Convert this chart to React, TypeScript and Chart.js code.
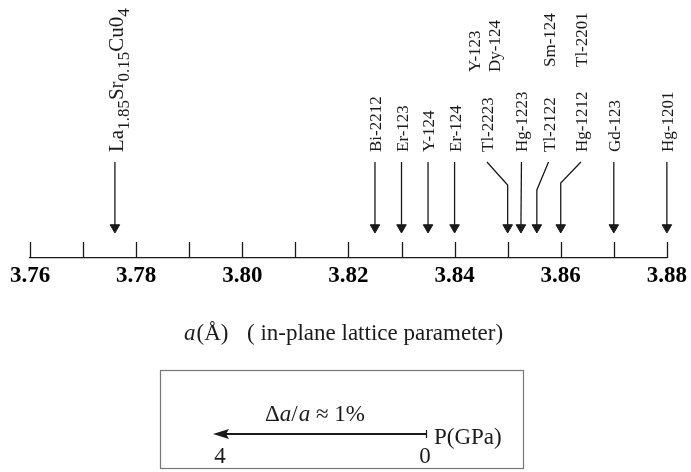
import React, { useEffect, useRef } from 'react';
import { Chart, registerables } from 'chart.js';

Chart.register(...registerables);

// ---- data ----
const compounds = ['La1.85Sr0.15Cu04', 'Bi-2212', 'Er-123', 'Y-124', 'Er-124', 'Tl-2223', 'Hg-1223', 'Tl-2122', 'Hg-1212', 'Gd-123', 'Hg-1201'];
const latticeA = [3.776, 3.825, 3.83, 3.835, 3.84, 3.85, 3.8525, 3.8555, 3.86, 3.87, 3.88];
// where each label (and the top of its arrow) sits on the a axis
const labelA = [3.776, 3.825, 3.83, 3.835, 3.84, 3.8461, 3.8526, 3.8577, 3.8638, 3.87, 3.88];
// extra compounds sharing the same arrow, written above its label
const upperGroups = [
  { lines: ['Y-123', 'Dy-124'], under: 'Tl-2223' },
  { lines: ['Sm-124'], under: 'Tl-2122' },
  { lines: ['Tl-2201'], under: 'Hg-1212' },
];
const axisMin = 3.76;
const axisMax = 3.88;
const tickStep = 0.01;

// ---- layout (y units = pixels above the axis line) ----
const ARROW_TOP = 96;
const ARROW_TIP = 25;
const HEAD_R = 5.5;
const BENDS: Record<string, number> = { 'Tl-2223': 73, 'Tl-2122': 68, 'Hg-1212': 75 };
const LABEL_BOTTOM = 106;
const UPPER_BOTTOM: Record<string, number> = { 'Tl-2223': 186, 'Tl-2122': 191, 'Hg-1212': 191 };
const INK = '#1a1a1a';
const SERIF = '"Liberation Serif", "DejaVu Serif", serif';

const laParts = [
  { t: 'La', sub: false },
  { t: '1.85', sub: true },
  { t: 'Sr', sub: false },
  { t: '0.15', sub: true },
  { t: 'Cu0', sub: false },
  { t: '4', sub: true },
];

function vertText(ctx: CanvasRenderingContext2D, text: string, x: number, yBottom: number, font: string) {
  ctx.save();
  ctx.translate(x, yBottom);
  ctx.rotate(-Math.PI / 2);
  ctx.font = font;
  ctx.textAlign = 'left';
  ctx.textBaseline = 'alphabetic';
  ctx.fillText(text, 0, 0);
  ctx.restore();
}

const overlay = {
  id: 'overlay',
  afterDraw(chart: any) {
    const { ctx, chartArea } = chart;
    const xs = chart.scales.x;
    const ys = chart.scales.y;
    ctx.save();
    ctx.fillStyle = INK;
    ctx.strokeStyle = INK;
    // upward tick marks
    ctx.lineWidth = 1.3;
    const base = chartArea.bottom;
    xs.ticks.forEach((t: any) => {
      const px = Math.round(xs.getPixelForValue(t.value)) + 0.5;
      ctx.beginPath();
      ctx.moveTo(px, base);
      ctx.lineTo(px, base - 16);
      ctx.stroke();
    });

    // compound labels
    const smallFont = `17px ${SERIF}`;
    compounds.forEach((name, i) => {
      const px = xs.getPixelForValue(labelA[i]);
      const py = ys.getPixelForValue(LABEL_BOTTOM);
      if (i === 0) {
        ctx.save();
        ctx.translate(px + 8.5, py);
        ctx.rotate(-Math.PI / 2);
        ctx.textBaseline = 'alphabetic';
        let cx = 0;
        laParts.forEach((p) => {
          ctx.font = p.sub ? `17px ${SERIF}` : `21px ${SERIF}`;
          ctx.fillText(p.t, cx, p.sub ? 6 : 0);
          cx += ctx.measureText(p.t).width;
        });
        ctx.restore();
      } else {
        vertText(ctx, name, px + 6, py, smallFont);
      }
    });
    upperGroups.forEach((g) => {
      const i = compounds.indexOf(g.under);
      const cx = xs.getPixelForValue(labelA[i]) - (g.lines.length > 1 ? 3 : 0);
      const py = ys.getPixelForValue(UPPER_BOTTOM[g.under]);
      g.lines.forEach((line, k) => {
        const off = (k - (g.lines.length - 1) / 2) * 20;
        vertText(ctx, line, cx + off + 6, py, smallFont);
      });
    });

    // caption
    ctx.textAlign = 'left';
    ctx.textBaseline = 'alphabetic';
    ctx.font = `italic 23px ${SERIF}`;
    ctx.fillText('a', 184, 340);
    const wa = ctx.measureText('a').width;
    ctx.font = `23px ${SERIF}`;
    ctx.fillText('(Å)', 184 + wa + 1, 340);
    ctx.fillText('( in-plane lattice parameter)', 247, 340);

    // pressure box
    ctx.strokeStyle = '#777';
    ctx.lineWidth = 1.2;
    ctx.strokeRect(160.5, 370.5, 363, 98);
    ctx.strokeStyle = INK;
    // delta a / a label
    let cx = 265;
    const parts = [
      { t: 'Δ', it: false },
      { t: 'a', it: true },
      { t: '/', it: false },
      { t: 'a', it: true },
      { t: ' ≈ 1%', it: false },
    ];
    parts.forEach((p) => {
      ctx.font = `${p.it ? 'italic ' : ''}23px ${SERIF}`;
      ctx.fillText(p.t, cx, 421);
      cx += ctx.measureText(p.t).width + (p.t === '/' ? 1 : 0);
    });
    // arrow
    ctx.lineWidth = 2;
    ctx.beginPath();
    ctx.moveTo(226, 434);
    ctx.lineTo(426, 434);
    ctx.stroke();
    ctx.lineWidth = 1.2;
    ctx.beginPath();
    ctx.moveTo(426.5, 430);
    ctx.lineTo(426.5, 438);
    ctx.stroke();
    ctx.beginPath();
    ctx.moveTo(213, 434);
    ctx.lineTo(229, 429);
    ctx.lineTo(226, 434);
    ctx.lineTo(229, 439);
    ctx.closePath();
    ctx.fill();
    ctx.font = `23px ${SERIF}`;
    ctx.fillText('P(GPa)', 434, 444);
    ctx.textAlign = 'center';
    ctx.fillText('4', 220, 463);
    ctx.fillText('0', 425, 463);
    ctx.restore();
  },
};

export default function App() {
  const ref = useRef<HTMLCanvasElement>(null);
  useEffect(() => {
    if (!ref.current) return;
    const datasets = compounds.map((name, i) => {
      const pts: { x: number; y: number }[] = [{ x: labelA[i], y: ARROW_TOP }];
      if (BENDS[name] !== undefined) pts.push({ x: latticeA[i], y: BENDS[name] });
      pts.push({ x: latticeA[i], y: ARROW_TIP + HEAD_R });
      return {
        label: name,
        data: pts,
        showLine: true,
        borderColor: INK,
        borderWidth: 1.3,
        pointRadius: pts.map((_, j) => (j === pts.length - 1 ? HEAD_R : 0)),
        pointStyle: 'triangle',
        pointRotation: 180,
        pointBackgroundColor: INK,
        pointBorderColor: INK,
        pointBorderWidth: 1,
        clip: false,
      };
    });
    const chart = new Chart(ref.current, {
      type: 'scatter',
      data: { datasets: datasets as any },
      options: {
        animation: false,
        responsive: true,
        maintainAspectRatio: false,
        events: [],
        layout: { padding: { left: 30, right: 24, top: 8, bottom: 174 } },
        plugins: { legend: { display: false }, tooltip: { enabled: false } },
        scales: {
          x: {
            type: 'linear',
            min: axisMin,
            max: axisMax,
            grid: { display: false, drawTicks: false },
            border: { display: true, color: INK, width: 1.3 },
            afterFit: (s: any) => {
              s.height = 40;
            },
            ticks: {
              stepSize: tickStep,
              autoSkip: false,
              maxRotation: 0,
              padding: 4,
              color: '#000',
              font: { family: SERIF, size: 23, weight: 'bold' },
              callback: (v: any) => (Math.round(Number(v) * 100) % 2 === 0 ? Number(v).toFixed(2) : ''),
            },
          },
          y: { display: false, min: 0, max: 250 },
        },
      },
      plugins: [overlay],
    });
    return () => chart.destroy();
  }, []);
  return (
    <div style={{ position: 'absolute', left: 0, top: 0, width: 691, height: 472, background: '#fff' }}>
      <canvas ref={ref} />
    </div>
  );
}
